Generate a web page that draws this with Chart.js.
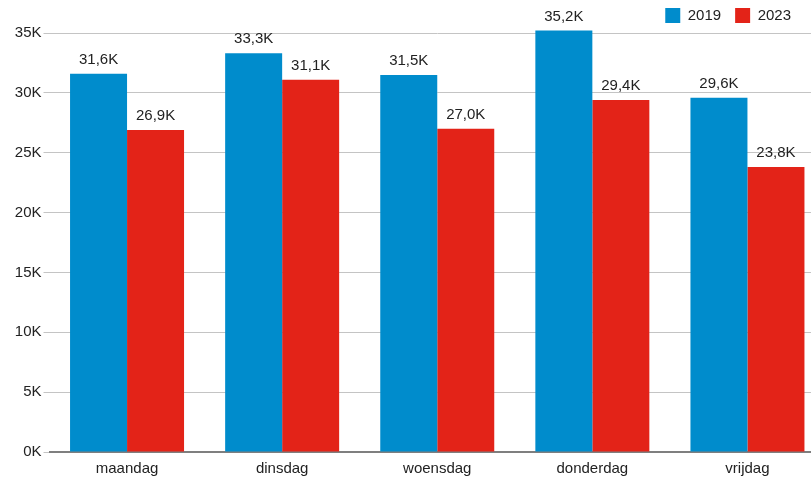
<!DOCTYPE html>
<html lang="nl">
<head>
  <meta charset="UTF-8" />
  <title>Bezoekers per weekdag</title>
  <style>
    html, body {
      margin: 0;
      padding: 0;
      background: #ffffff;
      overflow: hidden;
    }
    #wrap {
      width: 825px;
      height: 481px;
    }
  </style>
</head>
<body>
  <div id="wrap"><canvas id="dayChart"></canvas></div>

  <script src="https://cdn.jsdelivr.net/npm/chart.js"></script>
  <script>
    const days = ['maandag', 'dinsdag', 'woensdag', 'donderdag', 'vrijdag'];
    const values2019 = [31.6, 33.3, 31.5, 35.2, 29.6];
    const values2023 = [26.9, 31.1, 27.0, 29.4, 23.8];
    const yTicks = [0, 5, 10, 15, 20, 25, 30, 35];

    const BLUE = '#008ccc';
    const RED = '#e32318';
    const FONT = 'Liberation Sans, Arial, sans-serif';
    const FS = 15;

    function fmt(v) {
      return v.toFixed(1).replace('.', ',') + 'K';
    }

    // value labels above each bar (no datalabels plugin available)
    const barLabels = {
      id: 'barLabels',
      afterDatasetsDraw(chart) {
        const ctx = chart.ctx;
        ctx.save();
        ctx.font = FS + 'px ' + FONT;
        ctx.fillStyle = '#222';
        ctx.textAlign = 'center';
        ctx.textBaseline = 'middle';
        chart.data.datasets.forEach((ds, i) => {
          chart.getDatasetMeta(i).data.forEach((bar, j) => {
            ctx.fillText(fmt(ds.data[j]), bar.x, bar.y - 14);
          });
        });
        ctx.restore();
      }
    };

    // canvas is wider than the window (plot is cut on the right), so pull the legend back in
    const legendShift = {
      id: 'legendShift',
      afterLayout(chart) {
        if (chart.legend) chart.legend.right -= 20;
      }
    };

    new Chart(document.getElementById('dayChart'), {
      type: 'bar',
      data: {
        labels: days,
        datasets: [
          { label: '2019', data: values2019, backgroundColor: BLUE, clip: false },
          { label: '2023', data: values2023, backgroundColor: RED, clip: false }
        ]
      },
      options: {
        responsive: true,
        maintainAspectRatio: false,
        animation: false,
        categoryPercentage: 0.735,
        barPercentage: 1,
        layout: { padding: { left: 0, right: 0, top: -6, bottom: 0 } },
        plugins: {
          legend: {
            position: 'top',
            align: 'end',
            labels: {
              boxWidth: 15,
              boxHeight: 15,
              padding: 14,
              color: '#222',
              font: { family: FONT, size: FS }
            }
          },
          tooltip: { enabled: false }
        },
        scales: {
          x: {
            afterFit(scale) { scale.height = 29; },
            grid: { display: false },
            border: { color: '#7f7f7f', width: 2 },
            ticks: { color: '#222', font: { family: FONT, size: FS }, padding: 0 }
          },
          y: {
            min: 0,
            max: 35,
            afterFit(scale) { scale.width = 49.5; },
            afterBuildTicks(scale) { scale.ticks = yTicks.map(v => ({ value: v })); },
            grid: { color: '#c4c4c4', tickLength: 6 },
            border: { display: false },
            ticks: {
              color: '#222',
              padding: 2,
              font: { family: FONT, size: FS },
              callback: v => v + 'K'
            }
          }
        }
      },
      plugins: [barLabels, legendShift]
    });
  </script>
</body>
</html>
